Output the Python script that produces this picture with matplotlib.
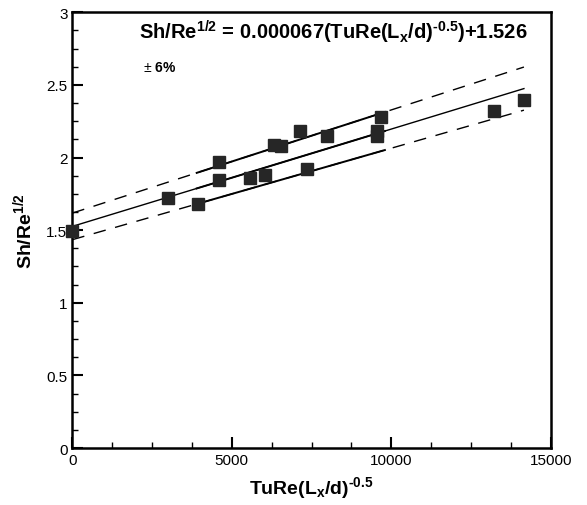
import matplotlib
matplotlib.use("Agg")
import matplotlib.pyplot as plt
import numpy as np
from matplotlib.ticker import MultipleLocator

plt.rcParams['font.family'] = ['Liberation Sans', 'DejaVu Sans']
plt.rcParams['mathtext.fontset'] = 'custom'
plt.rcParams['mathtext.rm'] = 'Liberation Sans'
plt.rcParams['mathtext.bf'] = 'Liberation Sans:bold'
plt.rcParams['mathtext.it'] = 'Liberation Sans:italic'
plt.rcParams['mathtext.default'] = 'bf'

# data
x_vals = [0, 2990, 3930, 4600, 4600, 5570, 6040, 6320, 6530, 7130, 7350, 7980,
          9540, 9540, 9670, 13220, 14160]
y_vals = [1.494, 1.719, 1.680, 1.967, 1.847, 1.857, 1.880, 2.088, 2.082, 2.185,
          1.921, 2.150, 2.183, 2.151, 2.281, 2.323, 2.398]

slope = 0.000067
intercept = 1.526
band = 0.06
fit_range = [0, 14160]
seg_range = [3900, 9800]

fig = plt.figure(figsize=(5.87, 5.06), dpi=100)
ax = fig.add_axes([0.1232, 0.1126, 0.9382 - 0.1232, 0.9737 - 0.1126])

xf = np.array(fit_range, dtype=float)
yf = slope * xf + intercept
ax.plot(xf, yf, color='black', lw=1.0)
ax.plot(xf, yf * (1 + band), color='black', lw=1.0, dashes=(9, 7))
ax.plot(xf, yf * (1 - band), color='black', lw=1.0, dashes=(9, 7))

xs = np.array(seg_range, dtype=float)
ys = slope * xs + intercept
for f in (1 + band, 1.0, 1 - band):
    ax.plot(xs, ys * f, color='black', lw=1.4)

ax.plot(x_vals, y_vals, linestyle='none', marker='s', markersize=8.8,
        color='#262626', clip_on=False, zorder=5)

ax.set_xlim(0, 15000)
ax.set_ylim(0, 3)
ax.xaxis.set_major_locator(MultipleLocator(5000))
ax.xaxis.set_minor_locator(MultipleLocator(1250))
ax.yaxis.set_major_locator(MultipleLocator(0.5))
ax.yaxis.set_minor_locator(MultipleLocator(0.125))
ax.set_yticks([0, 0.5, 1, 1.5, 2, 2.5, 3])
ax.set_yticklabels(['0', '0.5', '1', '1.5', '2', '2.5', '3'])
ax.tick_params(which='both', direction='in', top=False, right=False,
               labelsize=11)
ax.tick_params(which='major', length=8, width=1.5)
ax.tick_params(which='minor', length=4.5, width=1.0)
for s in ax.spines.values():
    s.set_linewidth(1.8)

ax.set_xlabel('TuRe(L$_{x}$/d)$^{\u2010 0.5}$', fontsize=14, fontweight='bold',
              labelpad=5)
ax.set_ylabel(r'Sh/Re$^{1/2}$', fontsize=14, fontweight='bold')
ax.yaxis.set_label_coords(-0.078, 0.5)

ax.text(0.139, 0.957,
        'Sh/Re$^{1/2}$ = 0.000067(TuRe(L$_{x}$/d)$^{\u20100.5}$)+1.526',
        transform=ax.transAxes, fontsize=14.5, fontweight='bold',
        ha='left', va='center')
ax.text(0.148, 0.874, r'$\mathrm{±}$ 6%', transform=ax.transAxes,
        fontsize=10, fontweight='bold', ha='left', va='center')

fig.savefig('out.png', dpi=100)
